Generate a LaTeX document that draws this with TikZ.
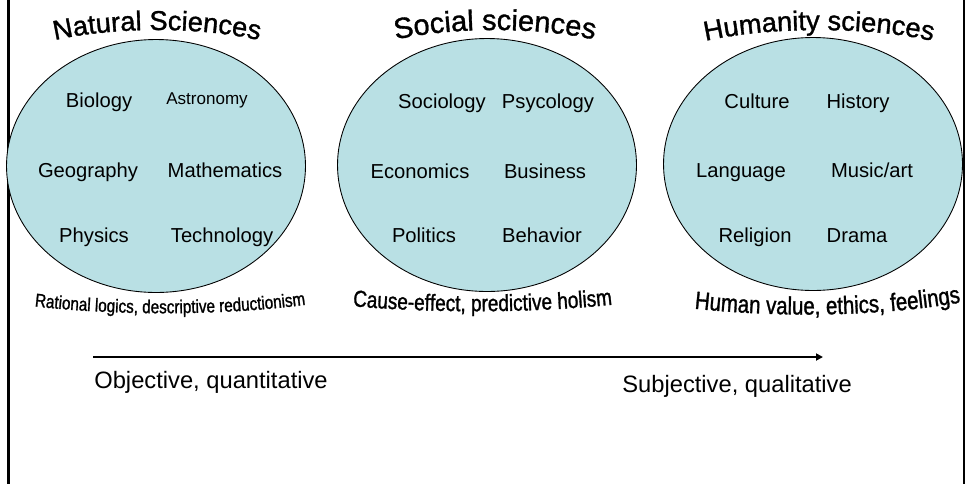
\documentclass[tikz,border=0pt]{standalone}
\usepackage{fontspec}
\setmainfont{Liberation Sans}
\newfontfamily\titlefont[FakeBold=1.2]{Liberation Sans}
\newfontfamily\archfont[FakeStretch=0.82,FakeBold=1.2]{Liberation Sans}
\usetikzlibrary{positioning,shapes.geometric,arrows.meta,decorations.text}
\definecolor{bubble}{RGB}{185,224,228}
\tikzset{
  field/.style={ellipse, draw=black, line width=0.5pt, fill=bubble,
    minimum width=5.98cm, minimum height=5.06cm, inner sep=0pt},
  subject/.style={font=\fontsize{11.5}{13}\selectfont, inner sep=0pt, anchor=base},
  polelabel/.style={font=\fontsize{13.5}{16}\selectfont, inner sep=0pt, anchor=base west},
  axis/.style={line width=1.3pt, -{Triangle[length=1.4mm,width=1.4mm]}},
}

\begin{document}
\begin{tikzpicture}[x=0.02cm, y=-0.02cm]
  \useasboundingbox (0,0) rectangle (966,484);
  \draw[line width=1.4pt] (8.5,0) -- (8.5,484);
  \draw[line width=0.6pt] (964,0) -- (964,484);

  % the three fields
  \node[field] (nat) at (156,166) {};
  \node[field] (soc) at (487,165) {};
  \node[field] (hum) at (813,164) {};

  % titles
  \path[decorate, decoration={text along path, text align=center,
    text={|\titlefont\fontsize{15.5}{18}\selectfont|Natural Sciences}}]
    (27,48) .. controls (95,24) and (219,24) .. (287,48);
  \path[decorate, decoration={text along path, text align=center,
    text={|\titlefont\fontsize{16.5}{19}\selectfont|Social sciences}}]
    (365,48) .. controls (433,24) and (557,24) .. (625,48);
  \path[decorate, decoration={text along path, text align=center,
    text={|\titlefont\fontsize{15.5}{18}\selectfont|Humanity sciences}}]
    (680,48) .. controls (750,24) and (888,24) .. (958,48);

  % natural sciences
  \node[subject] (bio) at (99,107) {Biology};
  \node[subject, font=\fontsize{9.7}{11}\selectfont] (astro) at (207,104) {Astronomy};
  \node[subject] (geo) at (88,177) {Geography};
  \node[subject] (math) at (225,177) {Mathematics};
  \node[subject] (phys) at (94,242) {Physics};
  \node[subject] (tech) at (222,242) {Technology};

  % social sciences
  \node[subject] (socio) at (442,108) {Sociology};
  \node[subject] (psy) at (548,108) {Psycology};
  \node[subject] (eco) at (420,178) {Economics};
  \node[subject] (bus) at (545,178) {Business};
  \node[subject] (pol) at (424,242) {Politics};
  \node[subject] (beh) at (542,242) {Behavior};

  % humanity sciences
  \node[subject] (cult) at (757,108) {Culture};
  \node[subject] (hist) at (858,108) {History};
  \node[subject] (lang) at (741,177) {Language};
  \node[subject] (music) at (872,177) {Music/art};
  \node[subject] (rel) at (755,242) {Religion};
  \node[subject] (drama) at (857,242) {Drama};

  % methods
  \path[decorate, decoration={text along path, text align=center,
    text={|\archfont\fontsize{10.6}{12}\selectfont|Rational logics, descriptive reductionism}}]
    (10,303) .. controls (100,317) and (240,317) .. (330,301);
  \path[decorate, decoration={text along path, text align=center,
    text={|\archfont\fontsize{13.2}{15}\selectfont|Cause-effect, predictive holism}}]
    (330,304) .. controls (420,314) and (545,314) .. (635,302);
  \path[decorate, decoration={text along path, text align=center,
    text={|\archfont\fontsize{14.2}{16}\selectfont|Human value, ethics, feelings}}]
    (680,307) .. controls (770,318) and (880,318) .. (975,300);

  % scale
  \coordinate (obj) at (93,357);
  \coordinate (subj) at (823,357);
  \draw[axis] (obj) -- (subj);
  \node[polelabel] (objtext) at (94,388) {Objective, quantitative};
  \node[polelabel] (subjtext) at (622,392) {Subjective, qualitative};
\end{tikzpicture}
\end{document}
